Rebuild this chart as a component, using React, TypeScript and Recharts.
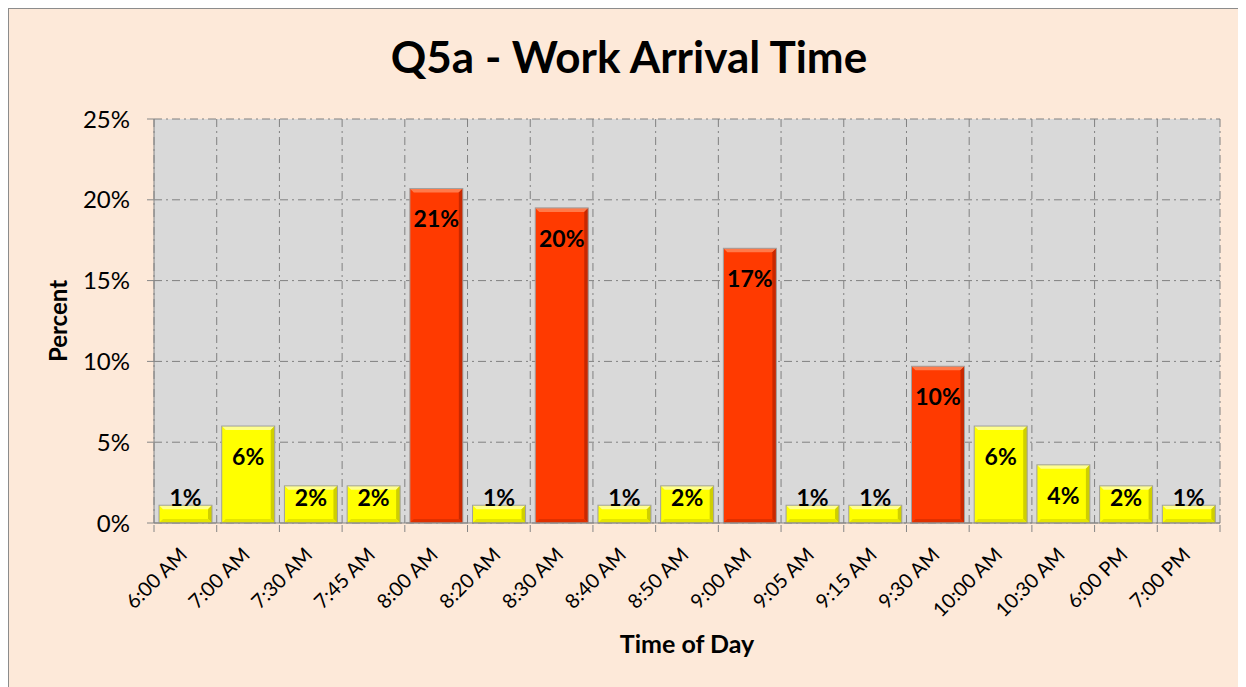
import { Bar, BarChart, CartesianGrid, Label, LabelList, XAxis, YAxis } from "recharts";

const times = [
  "6:00 AM", "7:00 AM", "7:30 AM", "7:45 AM", "8:00 AM", "8:20 AM", "8:30 AM", "8:40 AM", "8:50 AM",
  "9:00 AM", "9:05 AM", "9:15 AM", "9:30 AM", "10:00 AM", "10:30 AM", "6:00 PM", "7:00 PM",
];
const percents = [1.1, 6.0, 2.3, 2.3, 20.7, 1.1, 19.5, 1.1, 2.3, 17.0, 1.1, 1.1, 9.7, 6.0, 3.6, 2.3, 1.1];
const yTicks = [0, 5, 10, 15, 20, 25];

const data = times.map((time, i) => ({ time, value: percents[i] }));

const FONT = "Lato, 'Open Sans', sans-serif";
const CHART_W = 1230;
const CHART_H = 680;
const MARGIN = { top: 110, right: 19, bottom: 26, left: 45 };
const Y_AXIS_W = 100;
const PLOT_W = CHART_W - MARGIN.left - MARGIN.right - Y_AXIS_W;
const CAT_W = PLOT_W / times.length;
const AXIS_GRAY = "#868686";

// bevelled bar, red for the big groups
const BevelBar = (props: any) => {
  const { x, y, width, height, payload } = props;
  if (!height || height <= 0) return null;
  const red = payload.value >= 9;
  const base = red ? "#FF3A00" : "#FFFF00";
  const top = red ? "#FF7A4A" : "#FFFF8C";
  const side = red ? "#C82800" : "#CFCF00";
  const bottom = red ? "#E03000" : "#E4E400";
  const b = Math.min(4, height / 3);
  return (
    <g>
      <rect x={x} y={y} width={width} height={height} fill={base} />
      <polygon
        points={`${x},${y} ${x + width},${y} ${x + width - b},${y + b} ${x + b},${y + b}`}
        fill={top}
      />
      <polygon
        points={`${x + width},${y} ${x + width},${y + height} ${x + width - b},${y + height - b} ${x + width - b},${y + b}`}
        fill={side}
      />
      <polygon
        points={`${x},${y + height} ${x + width},${y + height} ${x + width - b},${y + height - b} ${x + b},${y + height - b}`}
        fill={bottom}
      />
      <rect x={x} y={y} width={width} height={height} fill="none" stroke="#A0A0A0" strokeWidth={1} />
    </g>
  );
};

const BarLabel = (props: any) => {
  const { x, y, width, height, value } = props;
  const cy = Math.min(y + 30, y + height - 26);
  return (
    <text
      x={x + width / 2}
      y={cy}
      textAnchor="middle"
      dominantBaseline="central"
      fontFamily={FONT}
      fontWeight={700}
      fontSize={23}
      fill="#000"
    >
      {`${Math.round(value)}%`}
    </text>
  );
};

const TimeTick = (props: any) => {
  const { x, y, payload, index } = props;
  const left = x - CAT_W / 2;
  return (
    <g>
      <line x1={left} y1={y} x2={left} y2={y + 7} stroke={AXIS_GRAY} />
      {index === times.length - 1 && (
        <line x1={x + CAT_W / 2} y1={y} x2={x + CAT_W / 2} y2={y + 7} stroke={AXIS_GRAY} />
      )}
      <text
        x={x + 3}
        y={y + 31}
        textAnchor="end"
        fontFamily={FONT}
        fontSize={20}
        fill="#000"
        transform={`rotate(-45, ${x + 3}, ${y + 31})`}
      >
        {payload.value}
      </text>
    </g>
  );
};

export default function App() {
  return (
    <div
      style={{
        position: "relative",
        width: 1232,
        height: 690,
        border: "1px solid #8c8c8c",
        boxSizing: "border-box",
        background: "#FDE9D9",
        fontFamily: FONT,
      }}
    >
      <div
        style={{
          position: "absolute",
          left: 5,
          top: 25,
          width: CHART_W,
          textAlign: "center",
          fontSize: 44,
          lineHeight: 1,
          fontWeight: 700,
          color: "#000",
        }}
      >
        Q5a - Work Arrival Time
      </div>
      <BarChart width={CHART_W} height={CHART_H} data={data} margin={MARGIN} barCategoryGap="8%">
        <CartesianGrid
          fill="#D9D9D9"
          stroke="#808080"
          strokeDasharray="8 4 2 4"
          verticalCoordinatesGenerator={({ offset }: any) =>
            Array.from({ length: times.length + 1 }, (_, i) => offset.left + (i * offset.width) / times.length)
          }
        />
        <XAxis
          dataKey="time"
          interval={0}
          height={140}
          tickSize={0}
          tickLine={false}
          tick={<TimeTick />}
          axisLine={{ stroke: AXIS_GRAY }}
        >
          <Label
            value="Time of Day"
            position="insideBottom"
            offset={10}
            style={{ fontFamily: FONT, fontSize: 25, fontWeight: 700, fill: "#000" }}
          />
        </XAxis>
        <YAxis
          width={Y_AXIS_W}
          domain={[0, 25]}
          ticks={yTicks}
          tickFormatter={(v) => `${v}%`}
          tickSize={7}
          tickMargin={17}
          tickLine={{ stroke: AXIS_GRAY }}
          axisLine={{ stroke: AXIS_GRAY }}
          tick={{ fontFamily: FONT, fontSize: 24, fill: "#000" }}
        >
          <Label
            value="Percent"
            angle={-90}
            position="insideLeft"
            offset={4}
            style={{ fontFamily: FONT, fontSize: 24, fontWeight: 700, fill: "#000", textAnchor: "middle" }}
          />
        </YAxis>
        <Bar dataKey="value" shape={<BevelBar />} isAnimationActive={false}>
          <LabelList dataKey="value" content={<BarLabel />} />
        </Bar>
      </BarChart>
    </div>
  );
}
